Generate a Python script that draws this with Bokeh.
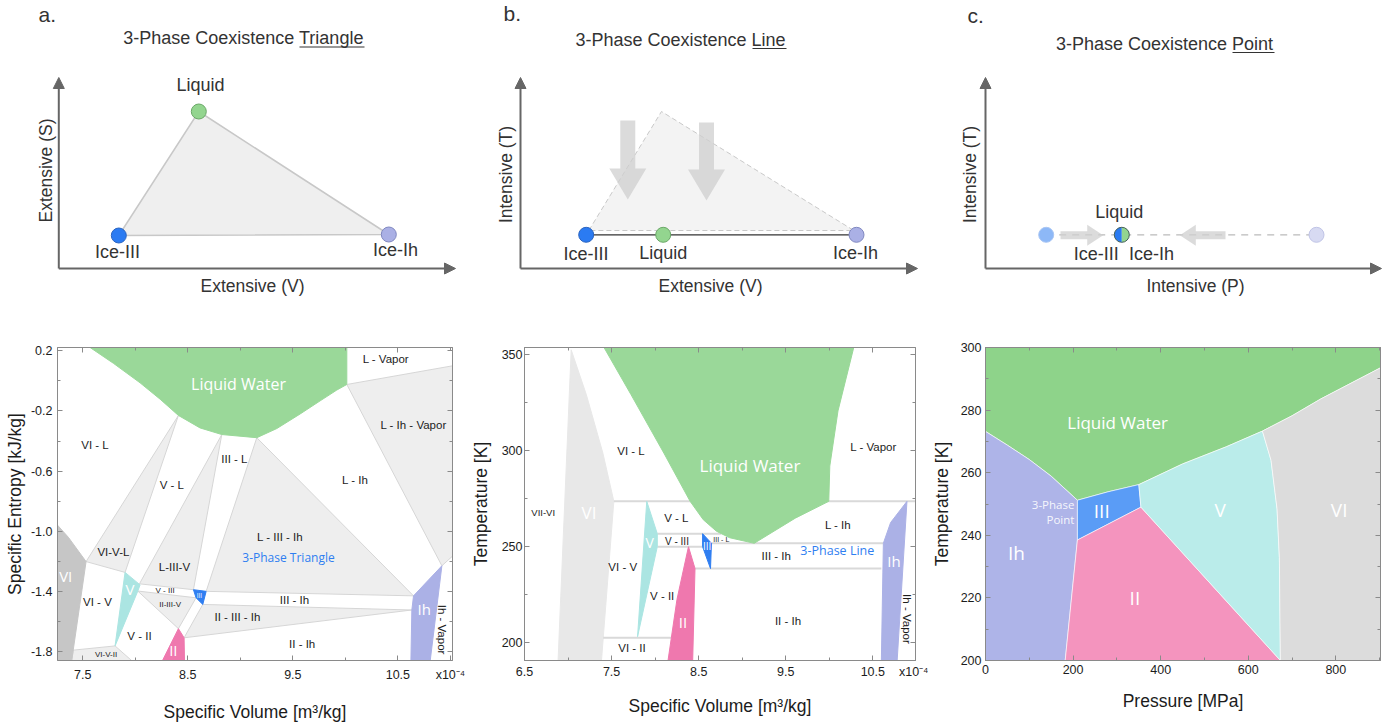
import math
from bokeh.plotting import figure
from bokeh.models import Range1d, FixedTicker, Arrow, NormalHead, PrintfTickFormatter, LinearAxis
from bokeh.layouts import row, column
from bokeh.embed import file_html
from bokeh.resources import INLINE
from bokeh.core.properties import value

HEL = "Liberation Sans"
MYR = "Open Sans"
INK = "#333333"
DARK = "#1c1c1c"
FRAME = "#8a8a8a"

TOP_W = [464, 456, 463]
BOT_W = [467, 461, 455]
TOP_H, BOT_H = 326, 398

# ---------------- top row: schematic panels (panel units: x right, y downward) ----------------
panel_letter = ["a.", "b.", "c."]
letter_x = [38.0, 39.0, 47.0]
letter_y = [14.0, 13.0, 14.5]

title_text = ["3-Phase Coexistence Triangle", "3-Phase Coexistence Line", "3-Phase Coexistence Point"]
title_x = [243.0, 216.0, 244.0]
title_y = [37.5, 39.0, 43.0]
underline_x0 = [299.0, 288.0, 312.0]
underline_x1 = [364.0, 322.0, 354.0]
underline_y = [46.5, 48.0, 52.0]

axis_x0 = [58.3, 56.0, 65.0]
axis_y0 = [268.0, 268.0, 268.0]
axis_x_tip = [455.0, 453.0, 461.0]
axis_y_tip = [77.0, 77.0, 77.0]
ylab_text = ["Extensive (S)", "Intensive (T)", "Intensive (T)"]
ylab_x = [45.0, 41.0, 49.5]
ylab_y = [170.0, 174.0, 174.0]
xlab_text = ["Extensive (V)", "Extensive (V)", "Intensive (P)"]
xlab_x = [252.0, 246.0, 275.0]
xlab_y = [285.0, 285.0, 285.0]

# panel a: triangle of the three coexisting phases
a_name = ["Ice-III", "Liquid", "Ice-Ih"]
a_node_x = [118.3, 198.3, 388.3]
a_node_y = [235.0, 111.0, 234.0]
a_name_x = [117.0, 200.0, 395.0]
a_name_y = [251.0, 84.5, 249.0]

# panel b: collapsed triangle -> line
b_name = ["Ice-III", "Liquid", "Ice-Ih"]
b_node_x = [121.7, 198.7, 392.0]
b_node_y = [234.3, 234.3, 234.3]
b_name_x = [121.5, 198.7, 391.0]
b_name_y = [253.0, 252.0, 252.0]
b_hull_x = [124.3, 197.0, 389.3]
b_hull_y = [230.0, 111.0, 230.0]
b_drop_x = [163.3, 242.0]
b_drop_top = [120.0, 122.0]
b_drop_tip = [199.0, 200.0]

# panel c: collapsed line -> point
c_name = ["Liquid", "Ice-III", "Ice-Ih"]
c_node_x = [125.7, 201.3, 396.0]
c_node_y = [234.3, 234.3, 234.3]
c_name_x = [198.7, 175.7, 231.0]
c_name_y = [211.0, 253.0, 253.0]
c_push_tail = [140.0, 305.0]
c_push_tip = [182.7, 259.3]
c_push_y = [234.7, 234.7]

node_fill = {"Ice-III": "#2B7BF2", "Liquid": "#93D58F", "Ice-Ih": "#AAB0E5"}
node_edge = {"Ice-III": "#2a64c0", "Liquid": "#6aa867", "Ice-Ih": "#8088c0"}

# ---------------- bottom a: S-V diagram (V in 1e-4 m3/kg, S in kJ/kg) ----------------
sv_liquid_v = [7.405, 7.570, 7.792, 8.046, 8.237, 8.411, 8.617, 8.824, 9.157, 9.348, 9.570, 9.760, 9.919, 10.014, 10.014]
sv_liquid_s = [0.30, 0.222, 0.117, -0.013, -0.122, -0.230, -0.313, -0.357, -0.378, -0.317, -0.220, -0.133, -0.061, -0.024, 0.30]
sv_vi_v = [7.20, 7.259, 7.363, 7.532, 7.387, 7.20]
sv_vi_s = [-0.93, -0.959, -1.040, -1.202, -1.90, -1.90]
sv_v_v = [7.903, 8.046, 8.021, 7.808]
sv_v_s = [-1.274, -1.357, -1.404, -1.763]
sv_iii_v = [8.554, 8.675, 8.643, 8.579]
sv_iii_s = [-1.389, -1.400, -1.487, -1.443]
sv_ii_v = [8.411, 8.465, 8.470, 8.231]
sv_ii_s = [-1.648, -1.709, -1.90, -1.90]
sv_ih_v = [10.649, 10.919, 10.801, 10.623, 10.633]
sv_ih_s = [-1.430, -1.230, -1.90, -1.90, -1.524]
sv_mix_v = [
    [10.014, 11.10, 11.10, 10.919],   # L-Ih-Vapor
    [9.157, 10.649, 8.675],            # L-III-Ih
    [8.824, 8.554, 8.040],             # L-III-V
    [8.411, 7.532, 7.903],             # VI-V-L
    [8.024, 8.579, 8.411],             # II-III-V
    [8.643, 10.633, 8.465],            # II-III-Ih
    [7.411, 7.808, 8.030, 7.386],      # VI-V-II
]
sv_mix_s = [
    [-0.024, 0.110, -1.115, -1.230],
    [-0.378, -1.430, -1.400],
    [-0.357, -1.389, -1.350],
    [-0.230, -1.202, -1.274],
    [-1.398, -1.443, -1.648],
    [-1.487, -1.524, -1.709],
    [-1.791, -1.763, -1.90, -1.90],
]
sv_lbl = ["L - Vapor", "L - Ih - Vapor", "VI - L", "III - L", "V - L", "L - Ih", "L - III - Ih",
          "VI-V-L", "L-III-V", "VI - V", "III - Ih", "II - III - Ih", "V - II", "II - Ih"]
sv_lbl_v = [10.386, 10.649, 7.617, 8.944, 8.348, 10.094, 9.379, 7.792, 8.373, 7.640, 9.516, 8.973, 8.040, 9.589]
sv_lbl_s = [0.146, -0.296, -0.426, -0.517, -0.693, -0.661, -1.039, -1.139, -1.241, -1.474, -1.459, -1.570, -1.698, -1.752]
sv_small = ["V - III", "II-III-V", "VI-V-II"]
sv_small_v = [8.284, 8.332, 7.722]
sv_small_s = [-1.393, -1.487, -1.817]
sv_phase = ["VI", "V", "Ih", "II"]
sv_phase_v = [7.338, 7.951, 10.751, 8.363]
sv_phase_s = [-1.300, -1.383, -1.517, -1.791]

# ---------------- bottom b: T-V diagram ----------------
tv_liquid_v = [7.387, 7.413, 7.723, 8.100, 8.402, 8.553, 8.704, 8.855, 9.138, 9.609, 9.994, 10.006, 10.100, 10.281, 10.29]
tv_liquid_t = [356.0, 353.9, 329.3, 298.8, 273.6, 264.0, 258.0, 254.6, 251.7, 264.8, 273.6, 292.0, 320.8, 353.9, 356.0]
tv_vi_v = [7.036, 7.21, 7.40, 7.526, 7.380, 6.883]
tv_vi_t = [352.7, 329.3, 298.8, 273.6, 188.0, 188.0]
tv_v_v = [7.904, 8.025, 8.025, 7.798]
tv_v_t = [273.6, 256.7, 249.9, 202.9]
tv_iii_v = [8.545, 8.647, 8.636, 8.545]
tv_iii_t = [256.7, 251.7, 238.5, 249.9]
tv_ii_v = [8.383, 8.458, 8.430, 8.140, 8.251]
tv_ii_t = [249.9, 238.5, 188.0, 188.0, 222.4]
tv_ih_v = [10.892, 10.704, 10.621, 10.597, 10.776]
tv_ih_t = [273.6, 262.5, 251.7, 188.0, 188.0]
tv_tie_t = [273.6, 256.7, 251.7, 249.9, 238.5, 202.4]
tv_tie_v0 = [7.526, 8.025, 8.647, 8.025, 8.458, 7.403]
tv_tie_v1 = [10.99, 8.760, 10.621, 8.545, 10.598, 8.185]
tv_lbl = ["VI - L", "L - Vapor", "V - L", "L - Ih", "III - Ih", "VI - V", "V - II", "II - Ih", "VI - II"]
tv_lbl_v = [7.723, 10.508, 8.243, 10.100, 9.391, 7.628, 8.081, 9.526, 7.734]
tv_lbl_t = [300.1, 302.1, 264.8, 261.1, 244.8, 239.4, 224.4, 211.0, 196.9]
tv_phase = ["VI", "V", "III", "Ih", "II"]
tv_phase_v = [7.240, 7.938, 8.598, 10.742, 8.319]
tv_phase_t = [267.9, 252.1, 250.4, 242.4, 210.5]

# ---------------- bottom c: P-T diagram (MPa, K) ----------------
pt_liq_p = [0, 0, 50, 100, 150, 209.9, 280, 350.1, 450, 550, 632.4, 700, 766, 910, 910]
pt_liq_t = [302, 273.2, 268.8, 264.2, 258.9, 251.2, 253.9, 256.2, 262.8, 268.3, 273.3, 278.2, 283.6, 294.1, 302]
pt_ih_p = [0, 0, 50, 100, 150, 209.9, 209.9, 182]
pt_ih_t = [200, 273.2, 268.8, 264.2, 258.9, 251.2, 238.5, 200]
pt_iii_p = [209.9, 280, 350.1, 354.9, 209.9]
pt_iii_t = [251.2, 253.9, 256.2, 249.0, 238.5]
pt_ii_p = [209.9, 354.9, 673.4, 182]
pt_ii_t = [238.5, 249.0, 200, 200]
pt_v_p = [350.1, 450, 550, 632.4, 652, 665.8, 671.1, 673.4, 354.9]
pt_v_t = [256.2, 262.8, 268.3, 273.3, 264, 248.4, 232.9, 200, 249.0]
pt_vi_p = [632.4, 700, 766, 910, 910, 673.4, 671.1, 665.8, 652]
pt_vi_t = [273.3, 278.2, 283.6, 294.1, 200, 200, 232.9, 248.4, 264]
pt_phase = ["III", "V", "VI", "Ih", "II"]
pt_phase_p = [265.4, 536.1, 807.6, 70.5, 341.2]
pt_phase_t = [247.7, 248.1, 248.1, 234.5, 220.0]

# scale multiplier of the volume axes, shown at the right end of the axis
mult_text = "x10⁻⁴"
mult_at = [11.0, 10.985]

# colours
LIQ, VI_A, VI_B, V_C0, III_C0, II_C0, IH_C0 = "#9AD899", "#C6C6C6", "#E8E8E8", "#ABE5E2", "#2F7EF1", "#EF78AE", "#ABB1E6"
MIX, MIX_EDGE = "#EEEEEE", "#D6D6D6"
LIQ_C, IH_C, III_C, II_C, V_C, VI_C = "#8ED38A", "#AEB4E8", "#5A9CF6", "#F494BE", "#BAECEA", "#DCDCDC"


def txt(p, xs, ys, texts, size, color=INK, font=HEL, align="center", baseline="middle", angle=0.0, alpha=1.0):
    p.text(x=xs, y=ys, text=texts, text_font=value(font), text_font_size=size, text_color=color,
           text_align=align, text_baseline=baseline, angle=angle, text_alpha=alpha)


def top_fig(w):
    p = figure(width=w, height=TOP_H, x_range=Range1d(0, w), y_range=Range1d(TOP_H, 0),
               output_backend="svg", toolbar_location=None, min_border=0,
               x_axis_location=None, y_axis_location=None)
    p.grid.visible = False
    p.outline_line_color = None
    return p


def top_frame(p, i):
    txt(p, [letter_x[i]], [letter_y[i]], [panel_letter[i]], "21px", align="left")
    txt(p, [title_x[i]], [title_y[i]], [title_text[i]], "18px")
    p.segment(x0=[underline_x0[i]], y0=[underline_y[i]], x1=[underline_x1[i]], y1=[underline_y[i]],
              line_color=INK, line_width=1)
    for xe, ye in ((axis_x_tip[i], axis_y0[i]), (axis_x0[i], axis_y_tip[i])):
        p.add_layout(Arrow(end=NormalHead(size=11, fill_color="#666666", line_color="#666666"),
                           x_start=axis_x0[i], y_start=axis_y0[i], x_end=xe, y_end=ye,
                           line_color="#666666", line_width=2))
    txt(p, [ylab_x[i]], [ylab_y[i]], [ylab_text[i]], "17.5px", angle=math.pi / 2)
    txt(p, [xlab_x[i]], [xlab_y[i]], [xlab_text[i]], "17.5px")


def down_arrow(xc, y0, y1, sw=15.0, hw=37.0, hl=31.0):
    return ([xc - sw / 2, xc + sw / 2, xc + sw / 2, xc + hw / 2, xc, xc - hw / 2, xc - sw / 2],
            [y0, y0, y1 - hl, y1 - hl, y1, y1 - hl, y1 - hl])


def side_arrow(x0, x1, yc, sh=8.0, hh=21.0, hl=16.0):
    d = 1.0 if x1 > x0 else -1.0
    xb = x1 - d * hl
    return ([x0, xb, xb, x1, xb, xb, x0],
            [yc - sh / 2, yc - sh / 2, yc - hh / 2, yc, yc + hh / 2, yc + sh / 2, yc + sh / 2])


# ----- top a -----
ta = top_fig(TOP_W[0])
top_frame(ta, 0)
ta.patch(x=a_node_x, y=a_node_y, fill_color="#EFEFEF", line_color="#C8C8C8", line_width=1.5)
ta.scatter(x=a_node_x, y=a_node_y, size=15, fill_color=[node_fill[n] for n in a_name],
           line_color=[node_edge[n] for n in a_name], line_width=1)
txt(ta, a_name_x, a_name_y, a_name, "18px")

# ----- top b -----
tb = top_fig(TOP_W[1])
top_frame(tb, 1)
tb.patch(x=b_hull_x, y=b_hull_y, fill_color="#F3F3F3", line_color="#C8C8C8", line_width=1, line_dash="5 3")
ax, ay = zip(*[down_arrow(x, y0, y1) for x, y0, y1 in zip(b_drop_x, b_drop_top, b_drop_tip)])
tb.patches(xs=list(ax), ys=list(ay), fill_color="#CFCFCF", fill_alpha=0.75, line_color=None)
tb.line(x=[b_node_x[0], b_node_x[2]], y=[b_node_y[0], b_node_y[2]], line_color="#333333", line_width=1.3)
tb.scatter(x=b_node_x, y=b_node_y, size=15, fill_color=[node_fill[n] for n in b_name],
           line_color=[node_edge[n] for n in b_name], line_width=1)
txt(tb, b_name_x, b_name_y, b_name, "18px")

# ----- top c -----
tc = top_fig(TOP_W[2])
top_frame(tc, 2)
tc.line(x=[c_node_x[0], c_node_x[2]], y=[c_node_y[0], c_node_y[2]], line_color="#BBBBBB", line_width=1.2, line_dash="7 6")
sx, sy = zip(*[side_arrow(a, b, y) for a, b, y in zip(c_push_tail, c_push_tip, c_push_y)])
tc.patches(xs=list(sx), ys=list(sy), fill_color="#CFCFCF", fill_alpha=0.75, line_color=None)
tc.scatter(x=[c_node_x[0]], y=[c_node_y[0]], size=15, fill_color="#8DB8F7", line_color="#a9c6f4", line_width=1)
tc.scatter(x=[c_node_x[2]], y=[c_node_y[2]], size=15, fill_color="#D7DAF2", line_color="#c0c4e6", line_width=1)
tc.wedge(x=[c_node_x[1]], y=[c_node_y[1]], radius=7.5, radius_units="screen", start_angle=math.pi / 2,
         end_angle=3 * math.pi / 2, fill_color="#2B7BF2", line_color=None)
tc.wedge(x=[c_node_x[1]], y=[c_node_y[1]], radius=7.5, radius_units="screen", start_angle=-math.pi / 2,
         end_angle=math.pi / 2, fill_color="#93D58F", line_color=None)
tc.scatter(x=[c_node_x[1]], y=[c_node_y[1]], size=15, fill_color=None, line_color="#44605a", line_width=1)
txt(tc, c_name_x, c_name_y, c_name, "18px")


# ---------------- bottom row ----------------
def phase_fig(w, xr, yr, mb):
    p = figure(width=w, height=BOT_H, x_range=Range1d(*xr), y_range=Range1d(*yr),
               output_backend="svg", toolbar_location=None,
               min_border_left=mb[0], min_border_right=mb[1], min_border_top=mb[2], min_border_bottom=mb[3])
    p.grid.visible = False
    p.outline_line_color = FRAME
    return p


def tick_only_axis(ticks, minor):
    a = LinearAxis(ticker=FixedTicker(ticks=ticks, minor_ticks=minor))
    a.major_tick_in = 5
    a.major_tick_out = 0
    a.minor_tick_in = 3
    a.minor_tick_out = 0
    a.axis_line_color = FRAME
    a.major_tick_line_color = FRAME
    a.minor_tick_line_color = FRAME
    a.major_label_text_font_size = "0px"
    a.major_label_text_color = None
    a.major_label_standoff = 0
    return a


def style_axes(p, xt, xm, yt, ym, xf, yf, xlabel, ylabel, xstand, ystand, xover=None):
    p.xaxis.ticker = FixedTicker(ticks=xt, minor_ticks=xm)
    p.yaxis.ticker = FixedTicker(ticks=yt, minor_ticks=ym)
    p.xaxis.formatter = PrintfTickFormatter(format=xf)
    p.yaxis.formatter = PrintfTickFormatter(format=yf)
    if xover:
        p.xaxis.major_label_overrides = xover
    p.xaxis.axis_label = xlabel
    p.yaxis.axis_label = ylabel
    for ax_ in p.axis:
        ax_.major_tick_in = 5
        ax_.major_tick_out = 0
        ax_.minor_tick_in = 3
        ax_.minor_tick_out = 0
        ax_.axis_line_color = FRAME
        ax_.major_tick_line_color = FRAME
        ax_.minor_tick_line_color = FRAME
        ax_.major_label_text_font = HEL
        ax_.major_label_text_font_size = "12.5px"
        ax_.major_label_text_color = DARK
        ax_.axis_label_text_font = HEL
        ax_.axis_label_text_font_size = "17.5px"
        ax_.axis_label_text_font_style = "normal"
        ax_.axis_label_text_color = DARK
    p.xaxis.major_label_standoff = xstand[0]
    p.xaxis.axis_label_standoff = xstand[1]
    p.yaxis.major_label_standoff = ystand[0]
    p.yaxis.axis_label_standoff = ystand[1]
    p.add_layout(tick_only_axis([t for t in xt if not (xover and t in xover)], xm), "above")
    p.add_layout(tick_only_axis(yt, ym), "right")


# ----- bottom a -----
ba = phase_fig(BOT_W[0], (7.26, 11.02), (-1.86, 0.222), (57, 15, 17, 61))
style_axes(ba, [7.5, 8.5, 9.5, 10.5, mult_at[0]], [7.5, 8.0, 8.5, 9.0, 9.5, 10.0, 10.5, 11.0],
           [-1.8, -1.4, -1.0, -0.6, -0.2, 0.2], [-1.8, -1.6, -1.4, -1.2, -1.0, -0.8, -0.6, -0.4, -0.2, 0.0, 0.2],
           "%.1f", "%.1f", "Specific Volume [m³/kg]", "Specific Entropy [kJ/kg]", (7, 17), (5, 3),
           {mult_at[0]: mult_text})
ba.patches(xs=sv_mix_v, ys=sv_mix_s, fill_color=MIX, line_color=MIX_EDGE, line_width=1)
ba.patch(x=sv_liquid_v, y=sv_liquid_s, fill_color=LIQ, line_color=LIQ)
ba.patch(x=sv_vi_v, y=sv_vi_s, fill_color=VI_A, line_color=VI_A)
ba.patch(x=sv_v_v, y=sv_v_s, fill_color=V_C0, line_color=V_C0)
ba.patch(x=sv_iii_v, y=sv_iii_s, fill_color=III_C0, line_color=III_C0)
ba.patch(x=sv_ii_v, y=sv_ii_s, fill_color=II_C0, line_color=II_C0)
ba.patch(x=sv_ih_v, y=sv_ih_s, fill_color=IH_C0, line_color=IH_C0)
txt(ba, sv_lbl_v, sv_lbl_s, sv_lbl, "11.5px", color=DARK)
txt(ba, sv_small_v, sv_small_s, sv_small, "8px", color=DARK)
txt(ba, sv_phase_v, sv_phase_s, sv_phase, "15px", color="white", font=MYR)
txt(ba, [8.611], [-1.426], ["III"], "6.5px", color="white", font=MYR)
txt(ba, [8.983], [-0.024], ["Liquid Water"], "16px", color="white", font=MYR)
txt(ba, [9.459], [-1.174], ["3-Phase Triangle"], "12px", color="#2F7EF1", font=MYR)
txt(ba, [10.919], [-1.654], ["Ih - Vapor"], "11.5px", color=DARK, angle=-math.pi / 2)

# ----- bottom b -----
bb = phase_fig(BOT_W[1], (6.5, 10.99), (190.5, 353.9), (52, 13, 21, 55))
style_axes(bb, [6.5, 7.5, 8.5, 9.5, 10.5, mult_at[1]], [7.0, 7.5, 8.0, 8.5, 9.0, 9.5, 10.0, 10.5],
           [200, 250, 300, 350], [200, 225, 250, 275, 300, 325, 350],
           "%.1f", "%d", "Specific Volume [m³/kg]", "Temperature [K]", (4, 14), (2, 8),
           {mult_at[1]: mult_text})
bb.patch(x=tv_vi_v, y=tv_vi_t, fill_color=VI_B, line_color=VI_B)
bb.segment(x0=tv_tie_v0, y0=tv_tie_t, x1=tv_tie_v1, y1=tv_tie_t, line_color="#D9D9D9", line_width=2)
bb.patch(x=tv_liquid_v, y=tv_liquid_t, fill_color=LIQ, line_color=LIQ)
bb.patch(x=tv_v_v, y=tv_v_t, fill_color=V_C0, line_color=V_C0)
bb.patch(x=tv_iii_v, y=tv_iii_t, fill_color=III_C0, line_color=III_C0)
bb.patch(x=tv_ii_v, y=tv_ii_t, fill_color=II_C0, line_color=II_C0)
bb.patch(x=tv_ih_v, y=tv_ih_t, fill_color=IH_C0, line_color=IH_C0)
txt(bb, tv_lbl_v, tv_lbl_t, tv_lbl, "11.5px", color=DARK)
txt(bb, [6.715], [267.9], ["VII-VI"], "9.5px", color=DARK)
txt(bb, [8.251], [252.6], ["V - III"], "10px", color=DARK)
txt(bb, [8.760], [253.8], ["III - L"], "7px", color=DARK)
txt(bb, tv_phase_v, tv_phase_t, tv_phase, ["17px", "14px", "10px", "15px", "15px"], color="white", font=MYR)
txt(bb, [9.089], [292.3], ["Liquid Water"], "17px", color="white", font=MYR)
txt(bb, [10.092], [247.8], ["3-Phase Line"], "12.5px", color="#2F7EF1", font=MYR)
txt(bb, [10.892], [212.2], ["Ih - Vapor"], "11.5px", color=DARK, angle=-math.pi / 2)

# ----- bottom c -----
bc = phase_fig(BOT_W[2], (0, 902), (200, 300), (55, 3, 21, 55))
style_axes(bc, [0, 200, 400, 600, 800], [0, 100, 200, 300, 400, 500, 600, 700, 800, 900],
           [200, 220, 240, 260, 280, 300], list(range(200, 301, 10)),
           "%d", "%d", "Pressure [MPa]", "Temperature [K]", (4, 14), (4, 6))
bc.patch(x=pt_liq_p, y=pt_liq_t, fill_color=LIQ_C, line_color="white", line_width=0.6)
bc.patch(x=pt_ih_p, y=pt_ih_t, fill_color=IH_C, line_color="white", line_width=0.6)
bc.patch(x=pt_iii_p, y=pt_iii_t, fill_color=III_C, line_color="white", line_width=0.6)
bc.patch(x=pt_ii_p, y=pt_ii_t, fill_color=II_C, line_color="white", line_width=0.6)
bc.patch(x=pt_v_p, y=pt_v_t, fill_color=V_C, line_color="white", line_width=0.6)
bc.patch(x=pt_vi_p, y=pt_vi_t, fill_color=VI_C, line_color="white", line_width=0.6)
txt(bc, pt_phase_p, pt_phase_t, pt_phase, "19px", color="white", font=MYR)
txt(bc, [301.8], [276.1], ["Liquid Water"], "17px", color="white", font=MYR)
txt(bc, [203, 203], [249.8, 245.0], ["3-Phase", "Point"], "11.5px", color="white", font=MYR, align="right", alpha=0.9)

layout = column(row(ta, tb, tc), row(ba, bb, bc))
open("out.html", "w").write(file_html(layout, INLINE))
